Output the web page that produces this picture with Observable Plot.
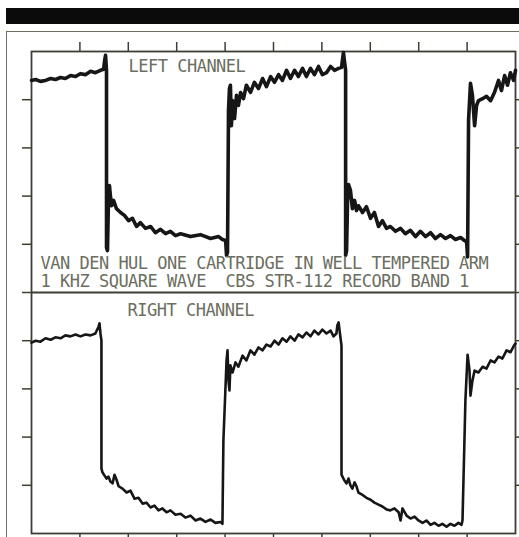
<!DOCTYPE html>
<html>
<head>
<meta charset="utf-8">
<script src="https://cdn.jsdelivr.net/npm/d3@7"></script>
<script src="https://cdn.jsdelivr.net/npm/@observablehq/plot@0.6"></script>
<style>
  html, body { margin: 0; padding: 0; background: #ffffff; }
  #page { position: relative; width: 519px; height: 537px; overflow: hidden; background: #ffffff; }
  #bar { position: absolute; left: 6px; top: 8px; width: 513px; height: 16px; background: #0b0b0b; }
  #outer { position: absolute; left: 6px; top: 31px; width: 520px; height: 520px;
           border-left: 1.5px solid #6d705f; border-top: 1.5px solid #6d705f; }
  #chart { position: absolute; left: 0; top: 0; }
  #chart g[aria-label="text"] text { letter-spacing: -0.5px; }
</style>
</head>
<body>
<div id="page">
  <div id="bar"></div>
  <div id="outer"></div>
  <div id="chart"></div>
</div>
<script>
// Time in ms (0.2 ms per division), level in graticule divisions about each channel's centre
const leftTime = [0,0.017,0.037,0.058,0.079,0.099,0.120,0.140,0.161,0.182,0.202,0.223,0.244,0.264,0.285,0.298,0.302,0.306,0.310,
  0.310,0.314,0.318,0.322,0.326,0.331,0.339,0.351,0.368,0.384,0.401,0.417,0.434,0.450,0.471,0.492,0.512,0.533,0.554,0.574,0.595,0.616,0.657,0.698,0.740,0.773,0.789,0.802,0.806,0.810,
  0.814,0.818,0.822,0.826,0.831,0.839,0.847,0.855,0.864,0.876,0.888,0.905,0.921,0.938,0.955,0.971,0.988,1.004,1.021,1.037,1.054,1.070,1.087,1.103,1.120,1.136,1.153,1.169,1.186,1.202,1.219,1.236,1.252,1.269,1.281,1.289,1.293,1.298,
  1.298,1.302,1.306,1.310,1.318,1.326,1.335,1.343,1.351,1.368,1.384,1.401,1.417,1.434,1.450,1.467,1.483,1.504,1.525,1.545,1.566,1.587,1.607,1.628,1.649,1.669,1.690,1.711,1.731,1.752,1.773,1.789,1.798,1.802,
  1.806,1.814,1.822,1.831,1.839,1.847,1.864,1.880,1.897,1.913,1.930,1.942,1.955,1.967,1.979,1.992,2.000];
const leftLevel = [1.90,1.92,1.88,1.90,1.94,1.92,1.96,1.94,2.00,1.98,2.04,2.02,2.09,2.06,2.11,2.13,2.31,2.42,2.11,
  -1.57,-1.63,-0.59,-0.28,-0.49,-0.70,-0.59,-0.76,-0.84,-0.90,-1.01,-0.96,-1.13,-1.05,-1.17,-1.13,-1.26,-1.19,-1.28,-1.23,-1.32,-1.28,-1.34,-1.30,-1.38,-1.34,-1.40,-1.42,-1.73,-1.67,
  1.28,1.73,1.80,0.96,1.48,1.11,1.59,1.38,1.65,1.52,1.80,1.65,1.86,1.73,1.94,1.77,1.98,1.86,2.02,1.90,2.11,1.94,2.11,1.98,2.15,1.98,2.15,2.02,2.19,2.02,2.06,2.19,2.11,2.15,2.17,2.48,2.31,2.11,
  -1.73,-1.63,-0.59,-0.26,-0.38,-0.76,-0.59,-0.80,-0.70,-0.84,-0.72,-0.96,-0.84,-1.13,-1.01,-1.17,-1.13,-1.23,-1.17,-1.28,-1.21,-1.34,-1.23,-1.34,-1.26,-1.38,-1.30,-1.38,-1.32,-1.40,-1.36,-1.42,-1.45,-1.76,
  1.07,1.84,1.59,0.96,1.38,1.48,1.52,1.57,1.48,1.65,1.90,1.69,2.00,1.80,2.06,1.90,2.11];

const rightTime = [0,0.017,0.037,0.058,0.079,0.099,0.120,0.140,0.161,0.182,0.202,0.223,0.244,0.264,0.277,0.281,0.285,0.289,
  0.289,0.293,0.302,0.310,0.318,0.326,0.335,0.343,0.351,0.360,0.376,0.393,0.409,0.426,0.442,0.459,0.475,0.492,0.508,0.525,0.541,0.558,0.574,0.595,0.616,0.636,0.657,0.678,0.698,0.719,0.740,0.760,0.781,0.789,
  0.793,0.806,0.810,0.814,0.818,0.822,0.831,0.843,0.855,0.872,0.888,0.905,0.921,0.938,0.955,0.971,0.988,1.004,1.021,1.037,1.054,1.070,1.087,1.103,1.120,1.136,1.153,1.169,1.186,1.202,1.219,1.236,1.248,1.260,1.264,1.269,1.273,1.281,
  1.281,1.285,1.293,1.302,1.310,1.318,1.326,1.335,1.343,1.351,1.368,1.384,1.401,1.417,1.434,1.450,1.467,1.483,1.500,1.517,1.525,1.533,1.550,1.566,1.583,1.599,1.616,1.632,1.649,1.665,1.682,1.698,1.715,1.731,1.748,1.764,1.777,1.781,
  1.785,1.793,1.802,1.810,1.814,1.822,1.831,1.847,1.864,1.880,1.897,1.913,1.930,1.946,1.963,1.979,1.996,2.000];
const rightLevel = [1.46,1.50,1.48,1.55,1.52,1.57,1.55,1.61,1.59,1.63,1.59,1.63,1.61,1.65,1.79,1.86,1.65,1.50,
  -1.15,-1.23,-1.30,-1.36,-1.32,-1.42,-1.46,-1.28,-1.38,-1.52,-1.57,-1.65,-1.61,-1.78,-1.76,-1.88,-1.86,-1.96,-1.92,-2.02,-1.98,-2.06,-2.02,-2.11,-2.09,-2.17,-2.13,-2.23,-2.19,-2.26,-2.21,-2.28,-2.26,-2.30,
  -0.57,1.09,1.30,0.67,0.47,0.99,0.84,1.05,0.96,1.19,1.09,1.30,1.21,1.36,1.30,1.42,1.38,1.50,1.42,1.55,1.48,1.59,1.50,1.63,1.57,1.67,1.59,1.71,1.63,1.73,1.65,1.71,1.59,1.65,1.82,1.88,1.71,1.40,
  -1.28,-1.32,-1.40,-1.46,-1.36,-1.50,-1.57,-1.44,-1.52,-1.65,-1.70,-1.76,-1.80,-1.86,-1.90,-1.94,-2.00,-2.02,-1.98,-2.06,-2.23,-1.98,-2.13,-2.19,-2.15,-2.23,-2.28,-2.23,-2.32,-2.28,-2.34,-2.30,-2.36,-2.30,-2.34,-2.28,-2.32,-2.23,
  -1.40,0.26,1.21,0.88,0.36,0.67,0.88,0.84,0.96,0.92,1.09,1.05,1.17,1.13,1.30,1.26,1.42,1.44];

const timeTicks = [0.2,0.4,0.6,0.8,1.0,1.2,1.4,1.6,1.8];
const divTicks = [-4,-3,-2,-1,0,1,2,3,4];
const channelNames = ["LEFT CHANNEL", "RIGHT CHANNEL"];
const captionLines = ["VAN DEN HUL ONE CARTRIDGE IN WELL TEMPERED ARM", "1 KHZ SQUARE WAVE  CBS STR-112 RECORD BAND 1"];

const left = leftTime.map((t, i) => ({t, v: leftLevel[i]}));
const right = rightTime.map((t, i) => ({t, v: rightLevel[i]}));

const gridColor = "#3c3f33";
const textColor = "#6b6e60";
const textFont = { fontFamily: "DejaVu Sans Mono", fontSize: 17, fill: textColor, textAnchor: "start", lineAnchor: "middle", frameAnchor: "top-left" };

const chart = Plot.plot({
  width: 519,
  height: 537,
  marginLeft: 31,
  marginRight: 4,
  marginTop: 51,
  marginBottom: 4,
  x: { domain: [0, 2] },
  y: { domain: [-5, 5] },
  style: { background: "transparent", overflow: "visible" },
  marks: [
    Plot.axisX(timeTicks, { anchor: "top", tickSize: 10, tickFormat: () => "", label: null, stroke: gridColor, strokeWidth: 1.5 }),
    Plot.axisX(timeTicks, { anchor: "bottom", tickSize: 4, tickFormat: () => "", label: null, stroke: gridColor, strokeWidth: 1.5 }),
    Plot.axisY(divTicks, { anchor: "left", tickSize: 9, tickFormat: () => "", label: null, stroke: gridColor, strokeWidth: 1.5 }),
    Plot.axisY(divTicks, { anchor: "right", tickSize: 4, tickFormat: () => "", label: null, stroke: gridColor, strokeWidth: 1.5 }),
    Plot.frame({ stroke: gridColor, strokeWidth: 1.8 }),
    Plot.ruleY([0], { stroke: gridColor, strokeWidth: 1.8 }),
    Plot.line(left, { x: "t", y: d => d.v + 2.5, stroke: "#161616", strokeWidth: 3.6, strokeLinejoin: "round", curve: "linear" }),
    Plot.line(right, { x: "t", y: d => d.v - 2.5, stroke: "#161616", strokeWidth: 2.6, strokeLinejoin: "round", curve: "linear" }),
    Plot.text([channelNames[0]], { text: d => d, ...textFont, dx: 97, dy: 15.5 }),
    Plot.text([channelNames[1]], { text: d => d, ...textFont, dx: 96, dy: 259 }),
    Plot.text([captionLines[0]], { text: d => d, ...textFont, dx: 9, dy: 212 }),
    Plot.text([captionLines[1]], { text: d => d, ...textFont, dx: 9, dy: 230.5 })
  ]
});
document.getElementById("chart").appendChild(chart);
</script>
</body>
</html>
